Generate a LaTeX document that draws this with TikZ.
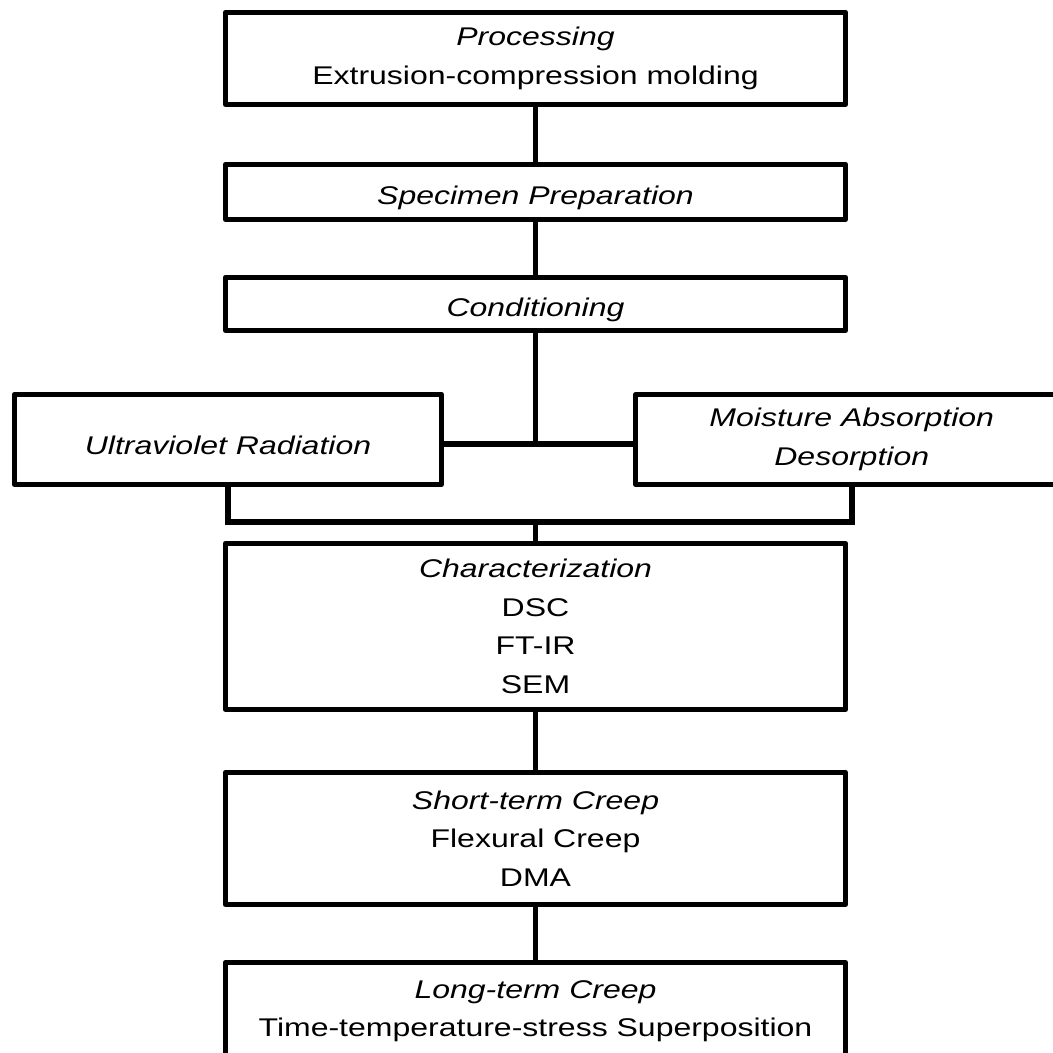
\documentclass[tikz,border=0pt]{standalone}
\usepackage{fontspec}
\setmainfont{Liberation Sans}[FakeStretch=1.25]

\tikzset{
  stage/.style={draw, rectangle, line width=2.6pt, line join=round,
    align=center, inner sep=0pt, minimum width=310pt,
    font=\fontsize{12.8pt}{19.25pt}\selectfont,
    execute at begin node=\rule{0pt}{15pt}},
  link/.style={line width=2.8pt}
}

\begin{document}
\begin{tikzpicture}[x=0.5pt,y=-0.5pt]
\useasboundingbox (0,0) rectangle (1053,1053);
\clip (0,0) rectangle (1053,1053);

% main chain
\node[stage, minimum height=46pt] (proc) at (535.5,58.5) {\itshape Processing\\Extrusion-compression molding};
\node[stage, minimum height=27.5pt] (spec) at (535.5,192) {\itshape Specimen Preparation};
\node[stage, minimum height=26.5pt] (cond) at (535.5,304) {\itshape Conditioning};

% the two exposures
\node[stage, minimum width=213.5pt, minimum height=45pt] (uv) at (228,439.5) {\itshape Ultraviolet Radiation};
\node[stage, minimum width=216pt, minimum height=45pt] (moist) at (851.75,439.5) {\itshape Moisture Absorption\\\itshape Desorption};

\node[stage, minimum height=83pt] (char) at (535.5,626.5) {\itshape Characterization\\DSC\\FT-IR\\SEM};
\node[stage, minimum height=66pt] (short) at (535.5,838.5) {\itshape Short-term Creep\\Flexural Creep\\DMA};
\node[stage, minimum height=48.5pt] (long) at (535.5,1011) {\itshape Long-term Creep\\Time-temperature-stress Superposition};

\coordinate (split) at (535.5,444);
\coordinate (merge) at (535.5,522);

\draw[link] (proc) -- (spec);
\draw[link] (spec) -- (cond);
\draw[link] (cond) -- (split);
\draw[link] (uv.east |- split) -- (moist.west |- split);
\draw[link] (uv.south) |- (merge) -| (moist.south);
\draw[link] (merge) -- (char);
\draw[link] (char) -- (short);
\draw[link] (short) -- (long);
\end{tikzpicture}
\end{document}
